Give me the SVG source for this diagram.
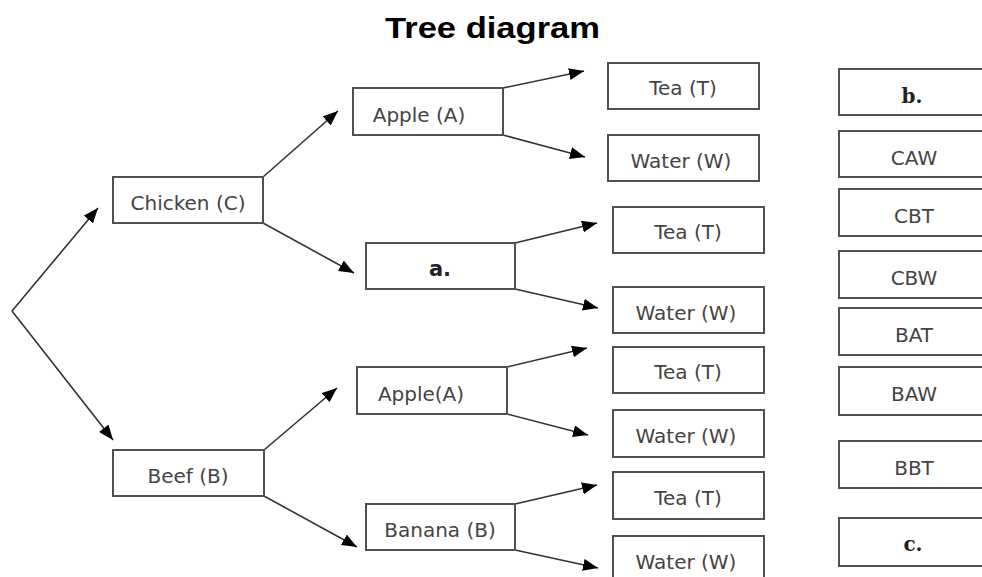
<svg xmlns="http://www.w3.org/2000/svg" width="982" height="577" viewBox="0 0 982 577">
<style>
.box{fill:#fff;stroke:#505050;stroke-width:2}
.t{font-family:"DejaVu Sans",Verdana,sans-serif;font-size:20px;fill:#444;text-anchor:middle}
.bs{font-family:"DejaVu Sans",sans-serif;font-size:21px;font-weight:bold;fill:#222;text-anchor:middle}
.bf{font-family:"DejaVu Serif",serif;font-size:20px;font-weight:bold;fill:#222;text-anchor:middle}
.ln{stroke:#333;stroke-width:1.6;fill:none;marker-end:url(#ah)}
.title{font-family:"Liberation Sans",Arial,sans-serif;font-size:29px;font-weight:bold;fill:#000;text-anchor:middle}
</style>
<defs>
<marker id="ah" markerUnits="userSpaceOnUse" markerWidth="15" markerHeight="12" viewBox="0 0 15 12" refX="15" refY="6" orient="auto">
<path d="M0,0 L15,6 L0,12 Z" fill="#000"/>
</marker>
</defs>
<rect width="982" height="577" fill="#fff"/>
<text class="title" x="492.5" y="38" textLength="215" lengthAdjust="spacingAndGlyphs">Tree diagram</text>
<g id="connectors">
<line class="ln" x1="12" y1="311" x2="98" y2="208"/>
<line class="ln" x1="12" y1="311" x2="113" y2="440"/>
<line class="ln" x1="263" y1="177" x2="338" y2="111"/>
<line class="ln" x1="263" y1="223" x2="354" y2="273"/>
<line class="ln" x1="503" y1="88" x2="584" y2="71"/>
<line class="ln" x1="503" y1="135" x2="585" y2="157"/>
<line class="ln" x1="515" y1="243" x2="597" y2="223"/>
<line class="ln" x1="515" y1="289" x2="598" y2="308"/>
<line class="ln" x1="264" y1="450" x2="337" y2="388"/>
<line class="ln" x1="264" y1="496" x2="357" y2="547"/>
<line class="ln" x1="507" y1="367" x2="587" y2="348"/>
<line class="ln" x1="507" y1="414" x2="588" y2="435"/>
<line class="ln" x1="515" y1="504" x2="597" y2="485"/>
<line class="ln" x1="515" y1="550" x2="598" y2="568"/>
</g>
<g id="chicken"><rect class="box" x="113" y="177" width="150" height="46"/><text class="t" x="188" y="210">Chicken (C)</text></g>
<g id="beef"><rect class="box" x="113" y="450" width="151" height="46"/><text class="t" x="188" y="483">Beef (B)</text></g>
<g id="apple1"><rect class="box" x="353" y="88" width="150" height="47"/><text class="t" x="419" y="122">Apple (A)</text></g>
<g id="a"><rect class="box" x="366" y="243" width="149" height="46"/><text class="bs" x="440" y="276">a.</text></g>
<g id="apple2"><rect class="box" x="357" y="367" width="150" height="47"/><text class="t" x="421" y="401">Apple(A)</text></g>
<g id="banana"><rect class="box" x="366" y="504" width="149" height="46"/><text class="t" x="440" y="537">Banana (B)</text></g>
<g id="tea1"><rect class="box" x="608" y="63" width="151" height="46"/><text class="t" x="683" y="95">Tea (T)</text></g>
<g id="water1"><rect class="box" x="608" y="135" width="151" height="46"/><text class="t" x="681" y="168">Water (W)</text></g>
<g id="tea2"><rect class="box" x="613" y="207" width="151" height="46"/><text class="t" x="688" y="239">Tea (T)</text></g>
<g id="water2"><rect class="box" x="613" y="287" width="151" height="46"/><text class="t" x="686" y="320">Water (W)</text></g>
<g id="tea3"><rect class="box" x="613" y="347" width="151" height="46"/><text class="t" x="688" y="379">Tea (T)</text></g>
<g id="water3"><rect class="box" x="613" y="410" width="151" height="47"/><text class="t" x="686" y="443">Water (W)</text></g>
<g id="tea4"><rect class="box" x="613" y="472" width="151" height="47"/><text class="t" x="688" y="505">Tea (T)</text></g>
<g id="water4"><rect class="box" x="613" y="536" width="151" height="46"/><text class="t" x="686" y="569">Water (W)</text></g>
<g id="b"><rect class="box" x="839" y="69" width="150" height="46"/><text class="bf" x="912" y="103">b.</text></g>
<g id="caw"><rect class="box" x="839" y="131" width="150" height="46"/><text class="t" x="914" y="165">CAW</text></g>
<g id="cbt"><rect class="box" x="839" y="189" width="150" height="47"/><text class="t" x="914" y="223">CBT</text></g>
<g id="cbw"><rect class="box" x="839" y="251" width="150" height="47"/><text class="t" x="914" y="285">CBW</text></g>
<g id="bat"><rect class="box" x="839" y="308" width="150" height="47"/><text class="t" x="914" y="342">BAT</text></g>
<g id="baw"><rect class="box" x="839" y="367" width="150" height="48"/><text class="t" x="914" y="401">BAW</text></g>
<g id="bbt"><rect class="box" x="839" y="441" width="150" height="47"/><text class="t" x="914" y="475">BBT</text></g>
<g id="c"><rect class="box" x="839" y="518" width="150" height="48"/><text class="bf" x="913" y="551">c.</text></g>
</svg>
